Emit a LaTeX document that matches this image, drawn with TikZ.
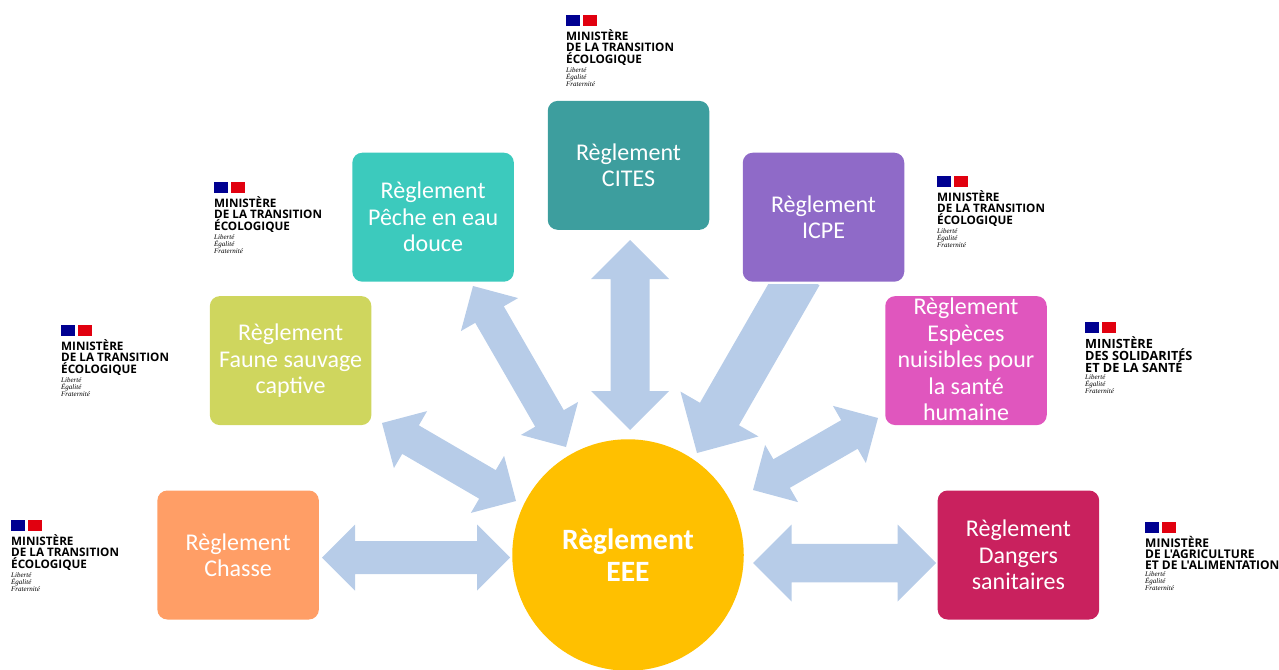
\documentclass[tikz,border=0pt]{standalone}
\usepackage{fontspec}
\setmainfont{Carlito}
\newfontfamily\logofont{Open Sans}
\newfontfamily\devisefont{Liberation Serif}
\usepackage{xcolor}
\usetikzlibrary{positioning,calc}

\definecolor{hubcol}{HTML}{FFC000}
\definecolor{fleche}{HTML}{B7CCE8}
\definecolor{chassecol}{HTML}{FF9E66}
\definecolor{faunecol}{HTML}{CFD65E}
\definecolor{pechecol}{HTML}{3CCABD}
\definecolor{citescol}{HTML}{3D9E9E}
\definecolor{icpecol}{HTML}{8F6AC8}
\definecolor{especescol}{HTML}{E056BE}
\definecolor{dangerscol}{HTML}{C9215E}
\definecolor{bleufr}{HTML}{000091}
\definecolor{rougefr}{HTML}{E1000F}

% logo : nom, x, y (coin du drapeau), corps, interligne, lignes du ministere
\newcommand{\ministere}[6]{
    \fill[bleufr] (#2,#3) rectangle ++(14,11);
    \fill[rougefr] (#2+17,#3) rectangle ++(14,11);
    \node[logo, font=\fontsize{#4}{#5}\logofont\bfseries] (#1) at (#2,#3+14) {#6};
    \node[below=2pt of #1.south west, devise] (#1d) {Libert\'e\\\'Egalit\'e\\Fraternit\'e};
}

\begin{document}
\begin{tikzpicture}[
        x=1pt, y=-1pt,
        regle/.style={fill=#1, rounded corners=10pt, minimum width=161.5pt, minimum height=129pt, inner sep=0pt, align=center, text=white, font=\fontsize{24}{26.5}\selectfont},
        hub/.style={circle, fill=hubcol, minimum size=231.5pt, inner sep=0pt, align=center, text=white, font=\fontsize{29.5}{32.5}\selectfont\bfseries},
        % fleche double : longueur et demi-largeur de la pointe, demi-largeur du corps
        arrow/.style 2 args={fill=fleche, to path={
            -- ($(\tikztostart)!#1pt!(\tikztotarget)!#1pt!90:(\tikztotarget)$)
            -- ($(\tikztostart)!#1pt!(\tikztotarget)!#2pt!90:(\tikztotarget)$)
            -- ($(\tikztotarget)!#1pt!(\tikztostart)!#2pt!-90:(\tikztostart)$)
            -- ($(\tikztotarget)!#1pt!(\tikztostart)!#1pt!-90:(\tikztostart)$)
            -- (\tikztotarget)
            -- ($(\tikztotarget)!#1pt!(\tikztostart)!#1pt!90:(\tikztostart)$)
            -- ($(\tikztotarget)!#1pt!(\tikztostart)!#2pt!90:(\tikztostart)$)
            -- ($(\tikztostart)!#1pt!(\tikztotarget)!#2pt!-90:(\tikztotarget)$)
            -- ($(\tikztostart)!#1pt!(\tikztotarget)!#1pt!-90:(\tikztotarget)$)
            -- cycle}},
        % fleche simple
        arrowone/.style 2 args={fill=fleche, to path={
            -- ($(\tikztostart)!#2pt!90:(\tikztotarget)$)
            -- ($(\tikztotarget)!#1pt!(\tikztostart)!#2pt!-90:(\tikztostart)$)
            -- ($(\tikztotarget)!#1pt!(\tikztostart)!#1pt!-90:(\tikztostart)$)
            -- (\tikztotarget)
            -- ($(\tikztotarget)!#1pt!(\tikztostart)!#1pt!90:(\tikztostart)$)
            -- ($(\tikztotarget)!#1pt!(\tikztostart)!#2pt!90:(\tikztostart)$)
            -- ($(\tikztostart)!#2pt!-90:(\tikztotarget)$)
            -- cycle}},
        logo/.style={anchor=north west, inner sep=0pt, align=left},
        devise/.style={anchor=north west, inner sep=0pt, align=left, font=\fontsize{7}{7}\devisefont\itshape},
        node distance=14pt
    ]
    \useasboundingbox (0,0) rectangle (1279,669);

    % centre
    \node[hub] (eee) at (628,555) {R\`eglement\\EEE};

    % reglements
    \node[regle=chassecol, left=193pt of eee] (chasse) {R\`eglement\\Chasse};
    \node[regle=faunecol, above=65pt of chasse, xshift=52.5pt] (faune) {R\`eglement\\Faune sauvage\\captive};
    \node[regle=pechecol, above=of faune, xshift=142.5pt] (peche) {R\`eglement\\P\^eche en eau\\douce};
    \node[regle=citescol, above=209pt of eee, xshift=.5pt] (cites) {R\`eglement\\CITES};
    \node[regle=icpecol, right=228.5pt of peche] (icpe) {R\`eglement\\ICPE};
    \node[regle=especescol, below=of icpe, xshift=142.5pt, label={[align=center, text=white, yshift=1pt, font=\fontsize{24}{26.5}\selectfont]center:R\`eglement\\Esp\`eces\\nuisibles pour\\la sant\'e\\humaine}] (especes) {};
    \node[regle=dangerscol, right=193.5pt of eee] (dangers) {R\`eglement\\Dangers\\sanitaires};

    % extremites des fleches
    \coordinate (chasseA) at (322,557.5);
    \coordinate (chasseB) at (510,557.5);
    \coordinate (fauneA) at (382,423);
    \coordinate (fauneB) at (516,501);
    \coordinate (pecheA) at (473,286);
    \coordinate (pecheB) at (566,447);
    \coordinate (citesA) at (630,240);
    \coordinate (citesB) at (630,430);
    \coordinate (icpeA) at (800,274);
    \coordinate (icpeB) at (697,453);
    \coordinate (especesA) at (878,418);
    \coordinate (especesB) at (753,490);
    \coordinate (dangersA) at (936,563);
    \coordinate (dangersB) at (753,563);

    % fleches
    \path[arrow={33}{16.5}] (chasseA) to (chasseB);
    \path[arrow={33}{16.5}] (fauneA) to (fauneB);
    \path[arrow={33}{16.5}] (pecheA) to (pecheB);
    \path[arrow={39}{19.5}] (citesA) to (citesB);
    \begin{scope}
        \clip (0,284) rectangle (1279,669);
        \path[arrowone={45}{22.5}] (icpeA) to (icpeB);
    \end{scope}
    \path[arrow={33}{16.5}] (especesA) to (especesB);
    \path[arrow={38.5}{19.25}] (dangersA) to (dangersB);

    % logos
    \ministere{logoA}{11}{520}{11.7}{11}{MINIST\`ERE\\DE LA TRANSITION\\\'ECOLOGIQUE}
    \ministere{logoB}{61}{325}{11.7}{11}{MINIST\`ERE\\DE LA TRANSITION\\\'ECOLOGIQUE}
    \ministere{logoC}{214}{182}{11.7}{11}{MINIST\`ERE\\DE LA TRANSITION\\\'ECOLOGIQUE}
    \ministere{logoD}{566}{15}{11.7}{11}{MINIST\`ERE\\DE LA TRANSITION\\\'ECOLOGIQUE}
    \ministere{logoE}{937}{176}{11.7}{11}{MINIST\`ERE\\DE LA TRANSITION\\\'ECOLOGIQUE}
    \ministere{logoF}{1085}{322}{12.7}{12}{MINIST\`ERE\\DES SOLIDARIT\'ES\\ET DE LA SANT\'E}
    \ministere{logoG}{1145}{522}{12}{11}{MINIST\`ERE\\DE L'AGRICULTURE\\ET DE L'ALIMENTATION}

\end{tikzpicture}
\end{document}
